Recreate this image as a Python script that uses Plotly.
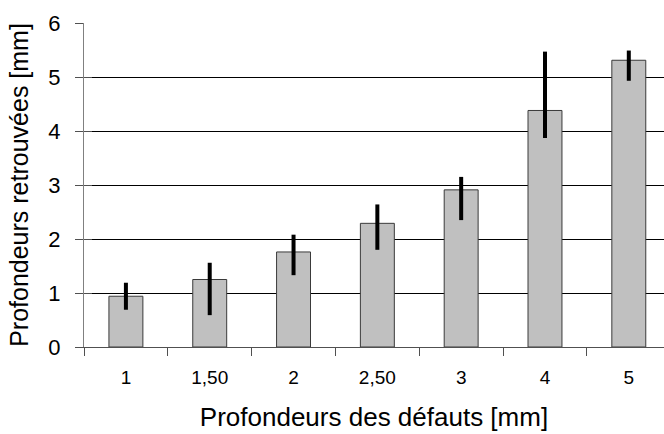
import plotly.graph_objects as go

categories = ["1", "1,50", "2", "2,50", "3", "4", "5"]
depths = [0.94, 1.25, 1.76, 2.29, 2.91, 4.38, 5.31]
err_upper = [1.19, 1.56, 2.08, 2.64, 3.15, 5.47, 5.49]
err_lower = [0.69, 0.59, 1.33, 1.80, 2.35, 3.87, 4.93]

plus = [u - d for u, d in zip(err_upper, depths)]
minus = [d - l for d, l in zip(depths, err_lower)]

FONT = "Liberation Sans, Arial, sans-serif"

fig = go.Figure()
fig.add_trace(go.Bar(
    x=categories, y=depths,
    marker=dict(color="#c0c0c0", line=dict(color="#3a3a3a", width=1)),
    error_y=dict(type="data", symmetric=False, array=plus, arrayminus=minus,
                 color="black", thickness=4, width=0),
    showlegend=False,
))

fig.update_layout(
    width=664, height=434,
    margin=dict(l=84, r=0, t=23, b=87),
    paper_bgcolor="white", plot_bgcolor="white",
    bargap=0.595,
    font=dict(family=FONT, color="black"),
    xaxis=dict(
        type="category", range=[-0.5, 6.42], automargin=False,
        showline=True, linecolor="#505050", linewidth=1,
        ticks="outside", ticklen=8, tickcolor="#505050", tickson="boundaries",
        tickfont=dict(size=19), ticklabelstandoff=13,
        title=dict(text="Profondeurs des défauts [mm]", font=dict(size=26), standoff=21),
        showgrid=False, zeroline=False,
    ),
    yaxis=dict(
        range=[0, 6], dtick=1, automargin=False,
        showline=True, linecolor="#808080", linewidth=1,
        ticks="outside", ticklen=8, tickcolor="#505050",
        tickfont=dict(size=22), ticklabelstandoff=10,
        showgrid=True, gridcolor="black", gridwidth=1,
        zeroline=False,
        title=dict(text="Profondeurs retrouvées [mm]", font=dict(size=25), standoff=12),
    ),
    yaxis2=dict(
        range=[0, 6], dtick=1, overlaying="y", side="left", automargin=False,
        ticks="inside", ticklen=8, tickcolor="#505050",
        showticklabels=False, showgrid=False, zeroline=False, showline=False,
    ),
)

fig.add_trace(go.Scatter(x=[categories[0]], y=[None], yaxis="y2", showlegend=False, hoverinfo="skip"))

fig.write_html("out.html", config={"displayModeBar": False},
               post_script="document.body.style.margin='0';document.body.style.overflow='hidden';")
